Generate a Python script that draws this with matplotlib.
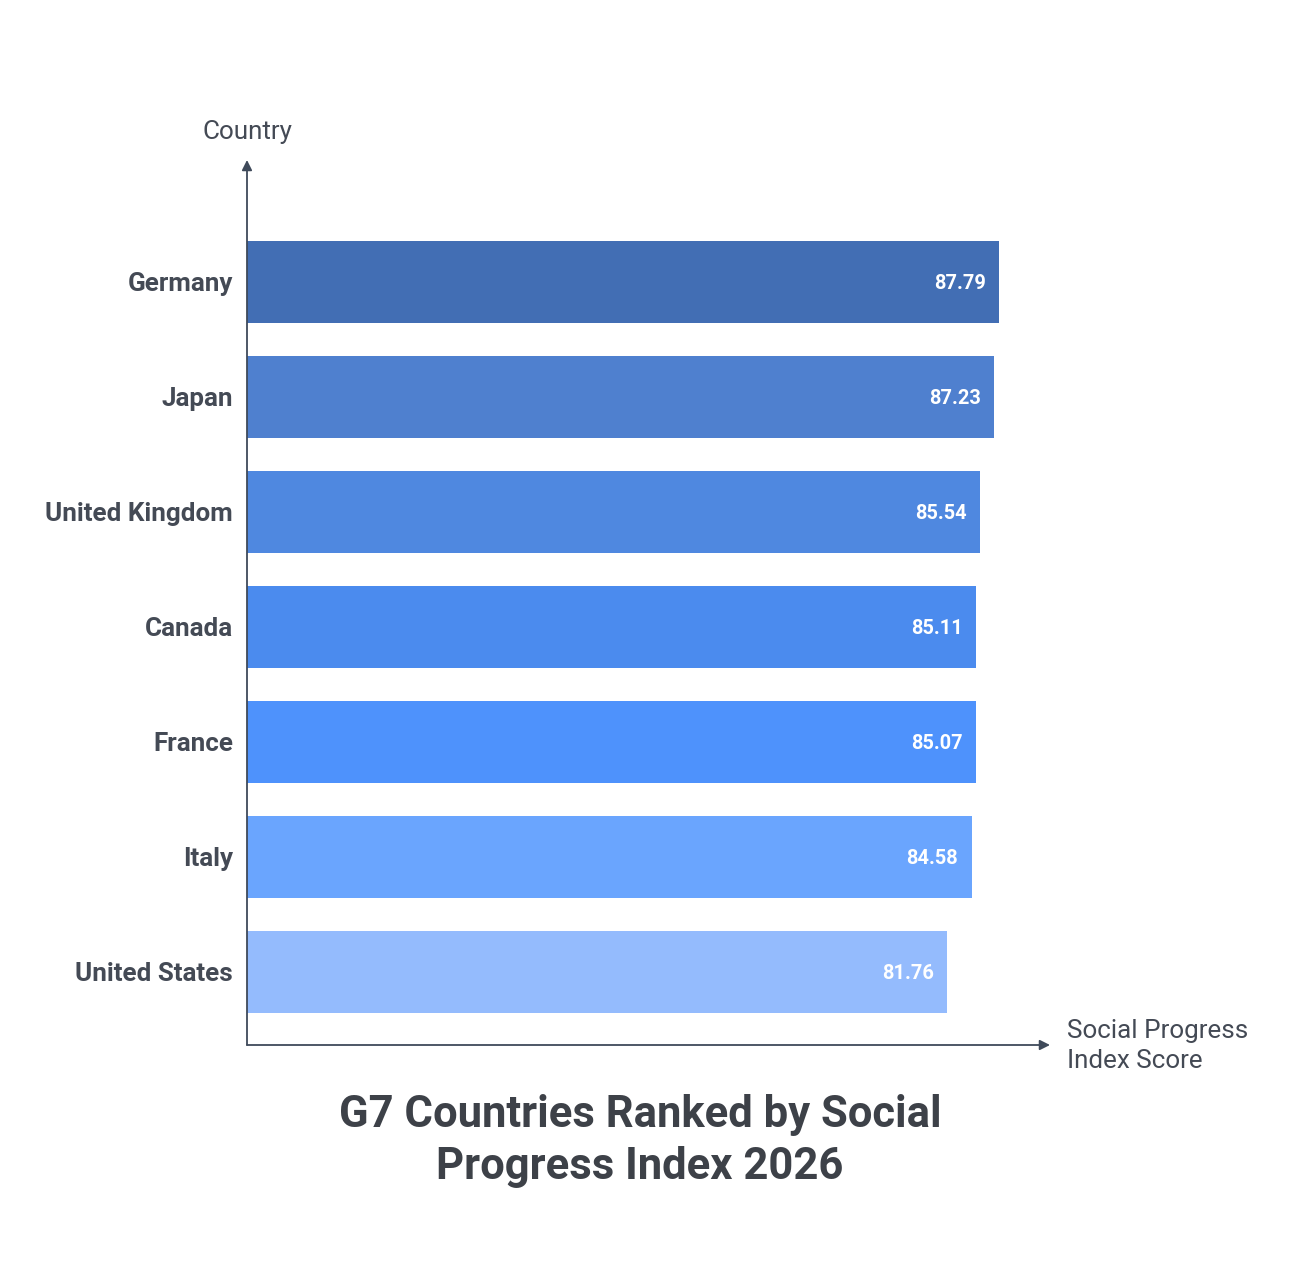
import matplotlib
matplotlib.use("Agg")
import matplotlib.pyplot as plt

countries = ["Germany", "Japan", "United Kingdom", "Canada", "France", "Italy", "United States"]
scores = [87.79, 87.23, 85.54, 85.11, 85.07, 84.58, 81.76]
colors = ["#426EB4", "#4F80CF", "#4F88E0", "#4B8BEE", "#4E92FC", "#6AA5FE", "#94BBFD"]
title = "G7 Countries Ranked by Social\nProgress Index 2026"
x_label = "Social Progress\nIndex Score"
y_label = "Country"

plt.rcParams['font.family'] = ['Roboto', 'DejaVu Sans']

W, H = 1300, 1275
fig = plt.figure(figsize=(W / 100, H / 100), dpi=100)
left_px, right_px, top_px, bottom_px = 247, 1050, 160, 1045
ax = fig.add_axes([left_px / W, 1 - bottom_px / H, (right_px - left_px) / W, (bottom_px - top_px) / H])

px_per_unit = (999 - 247) / 87.79
ax.set_xlim(0, (right_px - left_px) / px_per_unit)
n = len(countries)
ypos = [n - 1 - i for i in range(n)]
ax.set_ylim(-0.635, -0.635 + (bottom_px - top_px) / 115)

ax.barh(ypos, scores, height=0.713, color=colors, left=0)

for y, v in zip(ypos, scores):
    ax.annotate(f"{v:.2f}", xy=(v, y), xytext=(-9.5, -1.2), textcoords="offset points",
                ha="right", va="center", color="white", fontsize=14.4, fontweight="bold")

ax.set_yticks(ypos)
ax.set_yticklabels(countries, fontsize=18.7, fontweight="bold", color="#444a55")
ax.tick_params(axis="y", length=0, pad=10)
ax.set_xticks([])
for s in ax.spines.values():
    s.set_visible(False)

axis_color = "#3f4a5a"
ax.annotate("", xy=(0, 1), xycoords="axes fraction", xytext=(0, 0), textcoords="axes fraction",
            arrowprops=dict(arrowstyle="-|>,head_length=0.6,head_width=0.3", color=axis_color, lw=1.3,
                            shrinkA=0, shrinkB=0))
ax.annotate("", xy=(1, 0), xycoords="axes fraction", xytext=(0, 0), textcoords="axes fraction",
            arrowprops=dict(arrowstyle="-|>,head_length=0.6,head_width=0.3", color=axis_color, lw=1.3,
                            shrinkA=0, shrinkB=0))

fig.text(247 / W, 1 - 132 / H, y_label, ha="center", va="center", fontsize=18.7, color="#444a55")
fig.text(1067 / W, 1 - 1046 / H, x_label, ha="left", va="center", fontsize=18.7, color="#444a55",
         linespacing=1.3)
fig.text(640 / W, 1 - 1141 / H, title, ha="center", va="center", fontsize=31.4, fontweight="bold",
         color="#3d4148", linespacing=1.3)

fig.savefig("out.png", dpi=100, facecolor="white")
